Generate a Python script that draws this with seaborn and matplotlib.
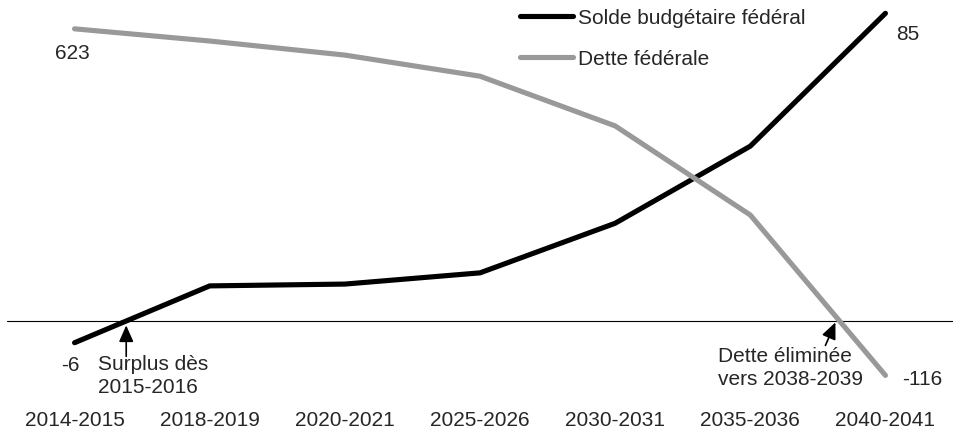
import matplotlib
matplotlib.use("Agg")
import matplotlib.pyplot as plt
import seaborn as sns
import pandas as pd

periods = ["2014-2015", "2018-2019", "2020-2021", "2025-2026", "2030-2031", "2035-2036", "2040-2041"]
solde = [-6, 9.7, 10.2, 13.3, 27, 48.3, 85]
dette = [623, 597, 567, 522, 416, 226, -116]

sns.set_theme(style="white")
plt.rcParams['font.family'] = ['Liberation Sans', 'DejaVu Sans']

W, H = 968, 434
fig = plt.figure(figsize=(W / 100, H / 100), dpi=100)
ax = fig.add_axes([7 / W, (H - 380) / H, (953 - 7) / W, (380 - 5) / H])
ax2 = ax.twinx()

df = pd.DataFrame({"x": range(len(periods)), "solde": solde, "dette": dette})

black = "#000000"
grey = "#999999"

sns.lineplot(data=df, x="x", y="solde", ax=ax, color=black, linewidth=3.7,
             solid_capstyle="round", label="Solde budgétaire fédéral", legend=False, clip_on=False)
sns.lineplot(data=df, x="x", y="dette", ax=ax2, color=grey, linewidth=3.7,
             solid_capstyle="round", label="Dette fédérale", legend=False, clip_on=False)

ax.axhline(0, color="black", linewidth=0.8, zorder=0)

ax.set_xlim(-0.5, len(periods) - 0.5)
ax.set_ylim(-16.3, 87.3)
ax2.set_ylim(-125.8, 673.8)

ax.set_xticks(range(len(periods)))
ax.set_xticklabels(periods, fontsize=15, va="baseline")
ax.tick_params(axis="x", length=0, pad=33)
ax.set_yticks([])
ax2.set_yticks([])
ax.set_xlabel("")
ax.set_ylabel("")
ax2.set_ylabel("")
for a in (ax, ax2):
    for s in a.spines.values():
        s.set_visible(False)
ax.patch.set_alpha(0)

fs = 15
n = len(periods) - 1
kw = dict(textcoords="offset pixels", ha="center", va="baseline", fontsize=fs)
ax2.annotate(f"{dette[0]}", xy=(0, dette[0]), xytext=(-2, -30), **kw)
ax.annotate(f"{solde[0]}", xy=(0, solde[0]), xytext=(-4, -28.5), **kw)
ax.annotate(f"{solde[n]}", xy=(n, solde[n]), xytext=(22, -27), **kw)
ax2.annotate(f"{dette[n]}", xy=(n, dette[n]), xytext=(37, -9.5), **kw)

arrow = dict(arrowstyle="-|>,head_length=0.5,head_width=0.22", color="black", lw=1.2,
             mutation_scale=20, shrinkA=0, shrinkB=0)

# Surplus annotation
sx = 6 / (6 + 9.7)
ax.annotate("", xy=(sx, -1.2), xytext=(0, -31), textcoords="offset pixels", arrowprops=arrow)
lkw = dict(textcoords="offset pixels", ha="left", va="baseline", fontsize=fs)
ax.annotate("Surplus dès", xy=(sx, -1.2), xytext=(-28, -45), **lkw)
ax.annotate("2015-2016", xy=(sx, -1.2), xytext=(-28, -68), **lkw)

# Dette éliminée annotation
dx = 5.63
ax2.annotate("", xy=(dx, -3), xytext=(-10, -23), textcoords="offset pixels", arrowprops=arrow)
ax2.annotate("Dette éliminée", xy=(dx, -3), xytext=(-117, -40), **lkw)
ax2.annotate("vers 2038-2039", xy=(dx, -3), xytext=(-117, -63), **lkw)

# legend
h1, l1 = ax.get_legend_handles_labels()
h2, l2 = ax2.get_legend_handles_labels()
leg = fig.legend(h1 + h2, l1 + l2, loc="upper left", bbox_to_anchor=(501 / W, 1 - (-10) / H),
                 frameon=False, fontsize=fs, handlelength=2.55, handletextpad=0.25,
                 labelspacing=1.05)
for line in leg.get_lines():
    line.set_solid_capstyle("round")

fig.savefig("out.png", dpi=100)
